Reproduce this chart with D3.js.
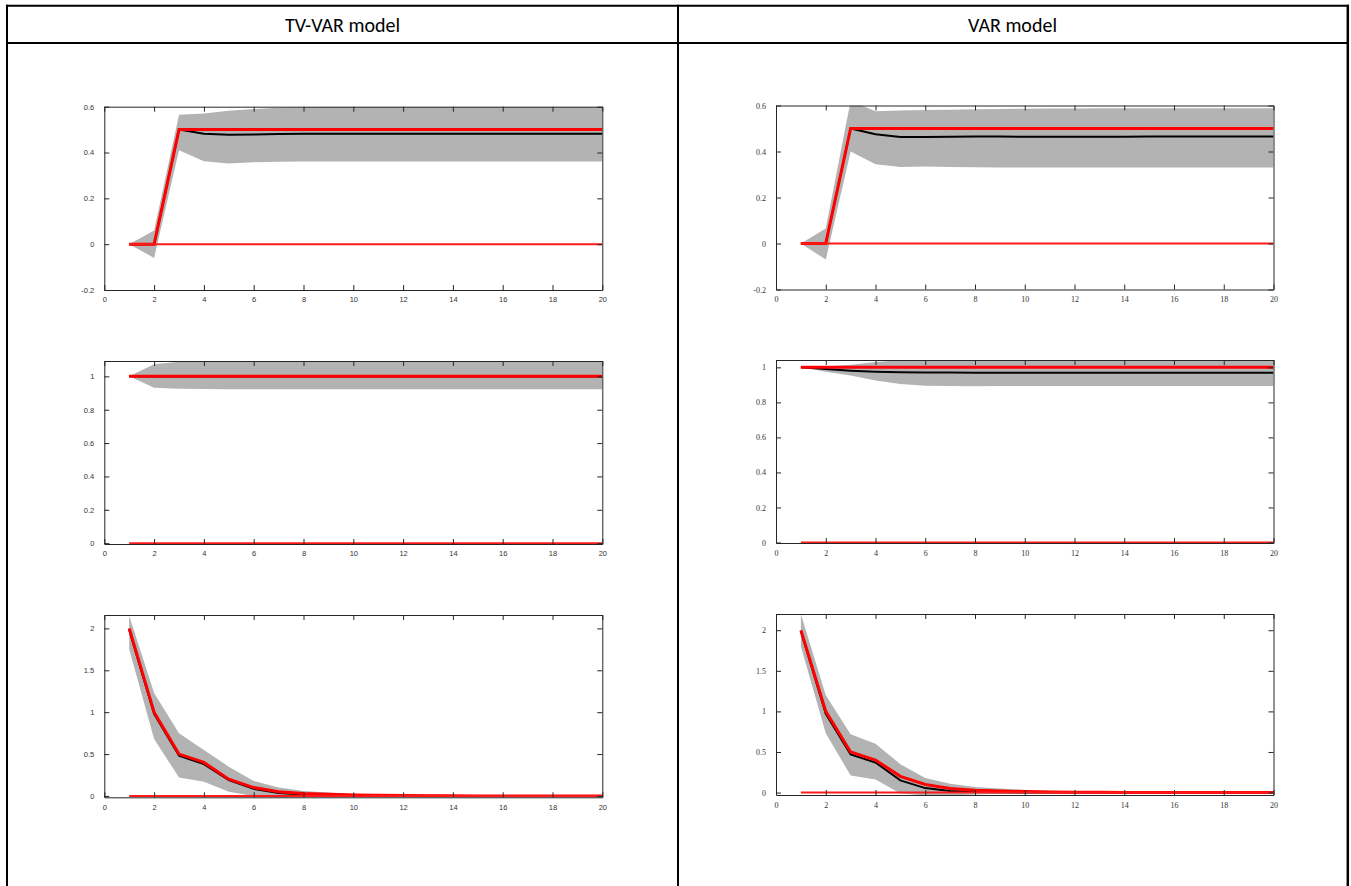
<!DOCTYPE html>
<html>
<head>
<meta charset="utf-8">
<script src="https://cdn.jsdelivr.net/npm/d3@7"></script>
<style>
  body { margin: 0; background: #fff; }
  .tick line, .domain { stroke: #262626; }
  .tick text { fill: #333; }
</style>
</head>
<body>
<div id="chart"></div>
<script>
// horizons and tick labels
const horizon = [1,2,3,4,5,6,7,8,9,10,11,12,13,14,15,16,17,18,19,20];
const xTicks = [0,2,4,6,8,10,12,14,16,18,20];
const yTicks1 = [-0.2,0,0.2,0.4,0.6];
const yTicks2 = [0,0.2,0.4,0.6,0.8,1];
const yTicks3 = [0,0.5,1,1.5,2];
const columnTitles = ["TV-VAR model", "VAR model"];

// true responses (red)
const true1 = [0,0,0.5,0.5,0.5,0.5,0.5,0.5,0.5,0.5,0.5,0.5,0.5,0.5,0.5,0.5,0.5,0.5,0.5,0.5];
const true2 = [1,1,1,1,1,1,1,1,1,1,1,1,1,1,1,1,1,1,1,1];
const true3 = [2,1,0.5,0.4,0.2,0.1,0.05,0.03,0.02,0.012,0.008,0.005,0.003,0.002,0.001,0.001,0,0,0,0];
const zeroLine = [0,0,0,0,0,0,0,0,0,0,0,0,0,0,0,0,0,0,0,0];

// TV-VAR estimates
const tvMed1 = [0,0,0.5,0.482,0.478,0.479,0.481,0.482,0.482,0.482,0.482,0.482,0.482,0.482,0.482,0.482,0.482,0.482,0.482,0.482];
const tvLo1  = [0,-0.06,0.41,0.362,0.352,0.358,0.36,0.361,0.361,0.361,0.361,0.361,0.361,0.361,0.361,0.361,0.361,0.361,0.361,0.361];
const tvHi1  = [0,0.06,0.565,0.57,0.582,0.59,0.595,0.598,0.6,0.6,0.6,0.6,0.6,0.6,0.6,0.6,0.6,0.6,0.6,0.6];
const tvMed2 = [1,0.999,0.999,0.999,0.999,0.999,0.999,0.999,0.999,0.999,0.999,0.999,0.999,0.999,0.999,0.999,0.999,0.999,0.999,0.999];
const tvLo2  = [1,0.932,0.926,0.924,0.923,0.923,0.923,0.923,0.923,0.923,0.923,0.923,0.923,0.923,0.923,0.923,0.923,0.923,0.923,0.923];
const tvHi2  = [1,1.072,1.088,1.095,1.1,1.1,1.1,1.1,1.1,1.1,1.1,1.1,1.1,1.1,1.1,1.1,1.1,1.1,1.1,1.1];
const tvMed3 = [1.98,0.98,0.48,0.38,0.19,0.085,0.035,0.018,0.01,0.006,0.004,0.003,0.002,0.001,0.001,0,0,0,0,0];
const tvLo3  = [1.75,0.68,0.22,0.17,0.05,0.0,-0.008,-0.012,-0.01,-0.007,-0.005,-0.004,-0.004,-0.003,-0.003,-0.003,-0.003,-0.003,-0.003,-0.003];
const tvHi3  = [2.15,1.23,0.75,0.55,0.35,0.18,0.1,0.06,0.04,0.025,0.018,0.014,0.012,0.01,0.01,0.01,0.01,0.01,0.01,0.01];

// VAR estimates
const varMed1 = [0,0,0.5,0.475,0.463,0.463,0.464,0.465,0.465,0.464,0.464,0.464,0.464,0.464,0.465,0.465,0.465,0.465,0.465,0.465];
const varLo1  = [0,-0.07,0.4,0.345,0.333,0.335,0.333,0.331,0.33,0.33,0.33,0.33,0.33,0.33,0.33,0.33,0.33,0.33,0.33,0.33];
const varHi1  = [0,0.065,0.62,0.575,0.578,0.58,0.582,0.584,0.585,0.586,0.587,0.587,0.588,0.588,0.588,0.588,0.588,0.588,0.588,0.588];
const varMed2 = [1,0.99,0.981,0.975,0.972,0.97,0.97,0.969,0.969,0.969,0.969,0.969,0.969,0.969,0.969,0.969,0.969,0.969,0.969,0.969];
const varLo2  = [1,0.975,0.953,0.925,0.905,0.895,0.893,0.892,0.893,0.894,0.894,0.894,0.894,0.894,0.894,0.894,0.894,0.894,0.894,0.894];
const varHi2  = [1,1.005,1.015,1.03,1.04,1.045,1.045,1.045,1.045,1.045,1.045,1.045,1.045,1.045,1.045,1.045,1.045,1.045,1.045,1.045];
const varMed3 = [1.99,0.97,0.47,0.37,0.15,0.055,0.02,0.008,0.003,0.001,0,0,0,0,0,0,0,0,0,0];
const varLo3  = [1.8,0.73,0.21,0.16,-0.01,-0.035,-0.035,-0.025,-0.015,-0.01,-0.006,-0.004,-0.003,-0.002,-0.002,-0.002,-0.002,-0.002,-0.002,-0.002];
const varHi3  = [2.2,1.2,0.72,0.6,0.35,0.18,0.11,0.07,0.05,0.032,0.022,0.016,0.013,0.011,0.01,0.01,0.01,0.01,0.01,0.01];

const W = 1351, H = 886;

const svg = d3.select("#chart")
  .append("svg")
  .attr("width", W)
  .attr("height", H);

svg.append("rect").attr("width", W).attr("height", H).attr("fill", "#fff");

// table grid
const grid = svg.append("g").attr("stroke", "#000").attr("stroke-width", 2);
grid.append("line").attr("x1", 6).attr("x2", 1349).attr("y1", 5.7).attr("y2", 5.7);
grid.append("line").attr("x1", 6).attr("x2", 1349).attr("y1", 43).attr("y2", 43);
[7, 678, 1347.8].forEach(x => {
  grid.append("line").attr("x1", x).attr("x2", x).attr("y1", 4.7).attr("y2", H)
    .attr("stroke-width", x > 1300 ? 2.5 : 2);
});

[342.5, 1012.5].forEach((cx, i) => {
  svg.append("text")
    .attr("x", cx)
    .attr("y", 24.5)
    .attr("text-anchor", "middle")
    .attr("dominant-baseline", "central")
    .style("font-family", "Carlito, Calibri, Lato, sans-serif")
    .style("font-size", "20px")
    .text(columnTitles[i]);
});

const cols = [
  { x0: 104.3, x1: 602.3, font: "Liberation Sans, Arial, sans-serif", size: "7.5px" },
  { x0: 776, x1: 1273.5, font: "Liberation Serif, Times New Roman, serif", size: "8px" }
];
const rows = [
  [[106.7, 290], [105.5, 289.5]],
  [[361, 544], [360, 543]],
  [[615, 797.3], [614, 795]]
];

const panels = [
  { col: 0, row: 0, yDomain: [-0.2, 0.6], yTicks: yTicks1, lo: tvLo1, hi: tvHi1, med: tvMed1, truth: true1 },
  { col: 0, row: 1, yDomain: [-0.005, 1.092], yTicks: yTicks2, lo: tvLo2, hi: tvHi2, med: tvMed2, truth: true2 },
  { col: 0, row: 2, yDomain: [-0.016, 2.16], yTicks: yTicks3, lo: tvLo3, hi: tvHi3, med: tvMed3, truth: true3 },
  { col: 1, row: 0, yDomain: [-0.2, 0.6], yTicks: yTicks1, lo: varLo1, hi: varHi1, med: varMed1, truth: true1 },
  { col: 1, row: 1, yDomain: [-0.003, 1.042], yTicks: yTicks2, lo: varLo2, hi: varHi2, med: varMed2, truth: true2 },
  { col: 1, row: 2, yDomain: [-0.03, 2.2], yTicks: yTicks3, lo: varLo3, hi: varHi3, med: varMed3, truth: true3 }
];

const fmt = d => String(d);

panels.forEach((p, i) => {
  const c = cols[p.col];
  const [top, bottom] = rows[p.row][p.col];
  const w = c.x1 - c.x0, h = bottom - top;

  const x = d3.scaleLinear().domain([0, 20]).range([0, w]);
  const y = d3.scaleLinear().domain(p.yDomain).range([h, 0]);

  const g = svg.append("g").attr("transform", `translate(${c.x0},${top})`);

  g.append("clipPath").attr("id", "clip" + i)
    .append("rect").attr("width", w).attr("height", h);

  const plot = g.append("g").attr("clip-path", `url(#clip${i})`);

  const band = d3.area()
    .x((d, j) => x(horizon[j]))
    .y0((d, j) => y(p.lo[j]))
    .y1((d, j) => y(p.hi[j]));

  const line = d3.line().x((d, j) => x(horizon[j])).y(d => y(d));

  plot.append("path").datum(p.lo).attr("d", band).attr("fill", "#b3b3b3");
  plot.append("path").datum(p.med).attr("d", line)
    .attr("fill", "none").attr("stroke", "#000").attr("stroke-width", 2);
  plot.append("path").datum(p.truth).attr("d", line)
    .attr("fill", "none").attr("stroke", "#ff0000").attr("stroke-width", 3);
  plot.append("path").datum(zeroLine).attr("d", line)
    .attr("fill", "none").attr("stroke", "#ff1a1a").attr("stroke-width", 2);

  // axes, ticks pointing inward on all four sides
  const styleAxis = sel => {
    sel.selectAll("text").style("font-family", c.font).style("font-size", c.size);
    sel.select(".domain").attr("stroke-width", 1);
  };

  g.append("g").attr("transform", `translate(0,${h})`)
    .call(d3.axisBottom(x).tickValues(xTicks).tickFormat(fmt).tickSize(-5).tickSizeOuter(0).tickPadding(7))
    .call(styleAxis);
  g.append("g")
    .call(d3.axisLeft(y).tickValues(p.yTicks).tickFormat(fmt).tickSize(-5).tickSizeOuter(0).tickPadding(10))
    .call(styleAxis);
  g.append("g")
    .call(d3.axisTop(x).tickValues(xTicks).tickFormat("").tickSize(-5).tickSizeOuter(0))
    .call(styleAxis);
  g.append("g").attr("transform", `translate(${w},0)`)
    .call(d3.axisRight(y).tickValues(p.yTicks).tickFormat("").tickSize(-5).tickSizeOuter(0))
    .call(styleAxis);
});
</script>
</body>
</html>
